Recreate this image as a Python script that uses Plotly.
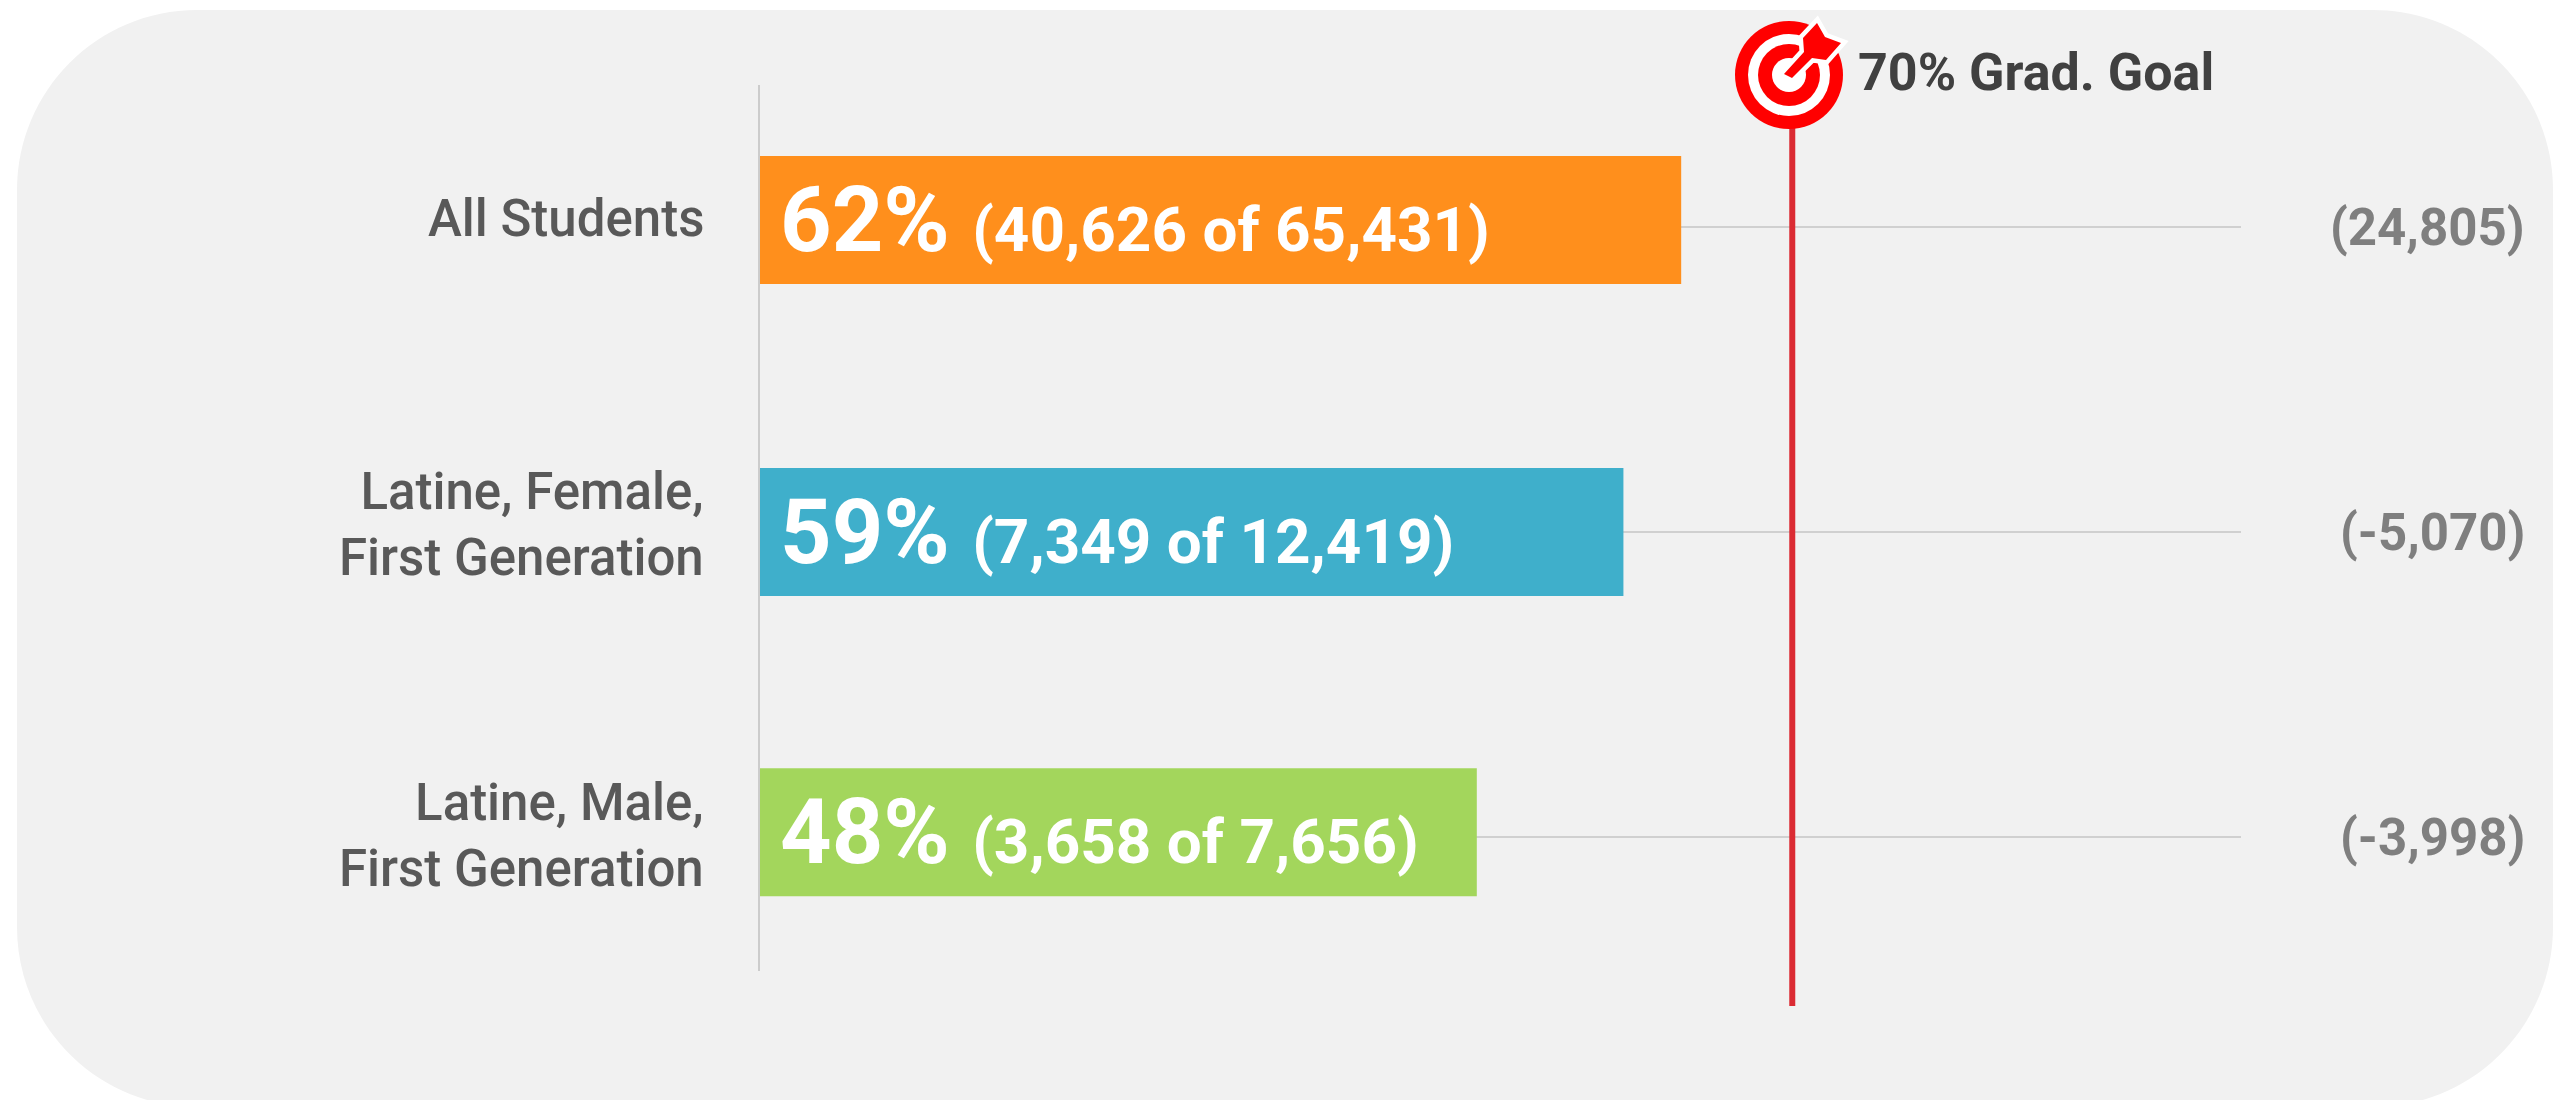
import plotly.graph_objects as go

categories = ['All Students', 'Latine, Female,<br>First Generation', 'Latine, Male,<br>First Generation']
bar_values = [62.2, 58.3, 48.4]
pct_labels = ['62%', '59%', '48%']
count_labels = ['(40,626 of 65,431)', '(7,349 of 12,419)', '(3,658 of 7,656)']
gap_labels = ['(24,805)', '(-5,070)', '(-3,998)']
bar_colors = ['#FF8F1C', '#3FAFCB', '#A3D65C']
goal = 69.7
goal_label = '70% Grad. Goal'

W, H = 2563, 1100
LEFT, RIGHT, TOP, BOTTOM = 760, 2241, 85, 971
FONT = 'Roboto'

# small nudges the source has per row, in category units / pixels
bar_shift = [-0.023, 0, -0.016]
label_shift = [9, 8, 2]


# paper coordinates in plotly are relative to the plot area
def px(x):
    return (x - LEFT) / (RIGHT - LEFT)


def py(y):
    return (BOTTOM - y) / (BOTTOM - TOP)


def rounded_panel(x0, y0, x1, y1, r):
    k = r * 0.448
    pts = [
        f'M{px(x0 + r)},{py(y0)}', f'L{px(x1 - r)},{py(y0)}',
        f'C{px(x1 - k)},{py(y0)} {px(x1)},{py(y0 + k)} {px(x1)},{py(y0 + r)}',
        f'L{px(x1)},{py(y1 - r)}',
        f'C{px(x1)},{py(y1 - k)} {px(x1 - k)},{py(y1)} {px(x1 - r)},{py(y1)}',
        f'L{px(x0 + r)},{py(y1)}',
        f'C{px(x0 + k)},{py(y1)} {px(x0)},{py(y1 - k)} {px(x0)},{py(y1 - r)}',
        f'L{px(x0)},{py(y0 + r)}',
        f'C{px(x0)},{py(y0 + k)} {px(x0 + k)},{py(y0)} {px(x0 + r)},{py(y0)}', 'Z']
    return ' '.join(pts)


def ring(cx, cy, rx, ry, color):
    return dict(type='circle', xref='paper', yref='paper', x0=px(cx - rx), x1=px(cx + rx),
                y0=py(cy + ry), y1=py(cy - ry), fillcolor=color, line_width=0, layer='above')


# dart outline, traced from the target icon
dart = [(1784, 74), (1804, 52), (1803, 38), (1817, 23), (1825, 37), (1841, 43),
        (1826, 60), (1812, 58), (1792, 78)]
dart_path = 'M' + ' L'.join(f'{px(x)},{py(y)}' for x, y in dart) + ' Z'

fig = go.Figure()
fig.add_trace(go.Bar(
    y=categories, x=bar_values, orientation='h', marker_color=bar_colors, marker_line_width=0,
    width=0.42, offset=[s - 0.21 for s in bar_shift], hoverinfo='skip'))

annotations = []
for i, cat in enumerate(categories):
    annotations.append(dict(x=px(706), xref='paper', y=cat, yref='y', text=cat, xanchor='right',
                            showarrow=False, align='right', yshift=label_shift[i],
                            font=dict(family=FONT, size=51, color='#595959', weight=500)))
    annotations.append(dict(x=0, xref='x', y=cat, yref='y', xanchor='left', xshift=18, yshift=bar_shift[i] * -305,
                            showarrow=False,
                            text=f'<span style="font-size:90px;font-weight:700">{pct_labels[i]} </span>'
                                 f'<span style="font-size:62px;font-weight:700">{count_labels[i]}</span>',
                            font=dict(family=FONT, size=62, color='white')))
    annotations.append(dict(x=px(2527), xref='paper', y=cat, yref='y', text=gap_labels[i], xanchor='right',
                            showarrow=False, font=dict(family=FONT, size=51, color='#7F7F7F', weight=700)))
annotations.append(dict(x=px(1856), xref='paper', y=py(72), yref='paper', text=goal_label, xanchor='left',
                        yanchor='middle', showarrow=False,
                        font=dict(family=FONT, size=52, color='#404040', weight=700)))

shapes = [
    dict(type='path', xref='paper', yref='paper', path=rounded_panel(17, 10, 2553, 1107, 180),
         fillcolor='#F1F1F1', line_width=0, layer='below'),
    dict(type='line', xref='x', x0=goal, x1=goal, yref='paper', y0=py(128), y1=py(1006),
         line=dict(color='#DB2B33', width=6), layer='above'),
    ring(1789, 75, 54, 54, '#FF0000'),
    ring(1789, 75, 41, 41, 'white'),
    ring(1789, 75, 31, 31, '#FF0000'),
    ring(1789, 75, 17, 17, 'white'),
    # white halo first, the red dart on top of it
    dict(type='path', xref='paper', yref='paper', path=dart_path, fillcolor='white',
         line=dict(color='white', width=9), layer='above'),
    dict(type='path', xref='paper', yref='paper', path=dart_path, fillcolor='#FF0000',
         line_width=0, layer='above'),
]

fig.update_layout(
    width=W, height=H,
    margin=dict(l=LEFT, r=W - RIGHT, t=TOP, b=H - BOTTOM, pad=0),
    paper_bgcolor='white', plot_bgcolor='rgba(0,0,0,0)',
    showlegend=False, shapes=shapes, annotations=annotations)
fig.update_xaxes(range=[0, 100], showgrid=False, zeroline=False, showticklabels=False, ticks='')
fig.update_yaxes(type='category', categoryorder='array', categoryarray=categories,
                 range=[2.439, -0.4656], showgrid=True, gridcolor='#D0D0D0', gridwidth=2,
                 zeroline=False, showline=True, linecolor='#CCCCCC', linewidth=2,
                 showticklabels=False, ticks='')

fig.write_html("out.html", config=dict(displayModeBar=False),
               post_script="document.body.style.margin='0';document.body.style.overflow='hidden';")
